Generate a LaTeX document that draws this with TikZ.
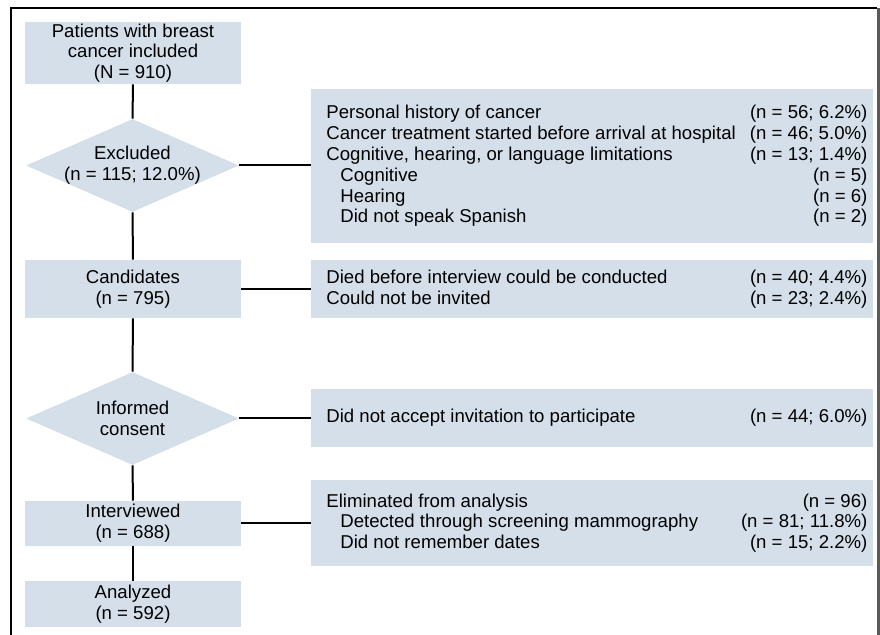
\documentclass[tikz,border=0pt]{standalone}
\usepackage{fontspec}
\setmainfont{Liberation Sans}
\usetikzlibrary{shapes.geometric}
\definecolor{boxfill}{RGB}{213,223,234}
\definecolor{rimgray}{RGB}{90,90,90}
\newcommand{\rw}[2]{\makebox[281pt][l]{\hspace*{7.5pt}#1\hfill #2\hspace*{3pt}}}
\newcommand{\sub}{\hspace*{7pt}}
\begin{document}
\begin{tikzpicture}[x=0.5pt,y=-0.5pt,
  font=\fontsize{9.3}{10.4}\selectfont,
  lbox/.style={rectangle,fill=boxfill,draw=none,minimum width=108pt,inner sep=0pt,align=center},
  dbox/.style={diamond,fill=boxfill,draw=none,minimum width=106.5pt,minimum height=46.5pt,inner sep=0pt},
  dtext/.style={label={[align=center,inner sep=0pt]center:#1}},
  rbox/.style={rectangle,fill=boxfill,draw=none,inner xsep=0pt,inner ysep=0pt,align=left,anchor=west},
  link/.style={draw=black,line width=1pt}]
\useasboundingbox (0,0) rectangle (880,635);
% frame
\draw[black,line width=0.6pt] (11,635) -- (11,8) -- (877,8);
\fill[rimgray] (876.5,8) rectangle (880,635);
% left column
\node[lbox,minimum height=31pt] (inc) at (133,53) {Patients with breast\\cancer included\\(N = 910)};
\node[dbox,dtext={Excluded\\(n = 115; 12.0\%)}] (exc) at (132.5,165.5) {};
\node[lbox,minimum height=29pt] (cand) at (133,289) {Candidates\\(n = 795)};
\node[dbox,dtext={Informed\\consent}] (cons) at (132.5,418.5) {};
\node[lbox,minimum height=22.5pt] (intv) at (133,523.5) {Interviewed\\(n = 688)};
\node[lbox,minimum height=23pt] (anal) at (133,604) {Analyzed\\(n = 592)};
% right column
\node[rbox,minimum height=77pt] (exr) at (311,166) {%
\rw{Personal history of cancer}{(n = 56; 6.2\%)}\\
\rw{Cancer treatment started before arrival at hospital}{(n = 46; 5.0\%)}\\
\rw{Cognitive, hearing, or language limitations}{(n = 13; 1.4\%)}\\
\rw{\sub Cognitive}{(n = 5)}\\
\rw{\sub Hearing}{(n = 6)}\\
\rw{\sub Did not speak Spanish}{(n = 2)}};
\node[rbox,minimum height=29pt] (car) at (311,289) {%
\rw{Died before interview could be conducted}{(n = 40; 4.4\%)}\\
\rw{Could not be invited}{(n = 23; 2.4\%)}};
\node[rbox,minimum height=29pt] (cor) at (311,418) {%
\rw{Did not accept invitation to participate}{(n = 44; 6.0\%)}};
\node[rbox,minimum height=43pt] (inr) at (311,523) {%
\rw{Eliminated from analysis}{(n = 96)}\\
\rw{\sub Detected through screening mammography}{(n = 81; 11.8\%)}\\
\rw{\sub Did not remember dates}{(n = 15; 2.2\%)}};
% connectors
\draw[link] (inc.south) -- (exc.north);
\draw[link] (exc.south) -- (cand.north);
\draw[link] (cand.south) -- (cons.north);
\draw[link] (cons.south) -- (intv.north);
\draw[link] (intv.south) -- (anal.north);
\draw[link] (exc.east) -- (exc.east -| exr.west);
\draw[link] (cand.east) -- (cand.east -| car.west);
\draw[link] (cons.east) -- (cons.east -| cor.west);
\draw[link] (intv.east) -- (intv.east -| inr.west);
\end{tikzpicture}
\end{document}
